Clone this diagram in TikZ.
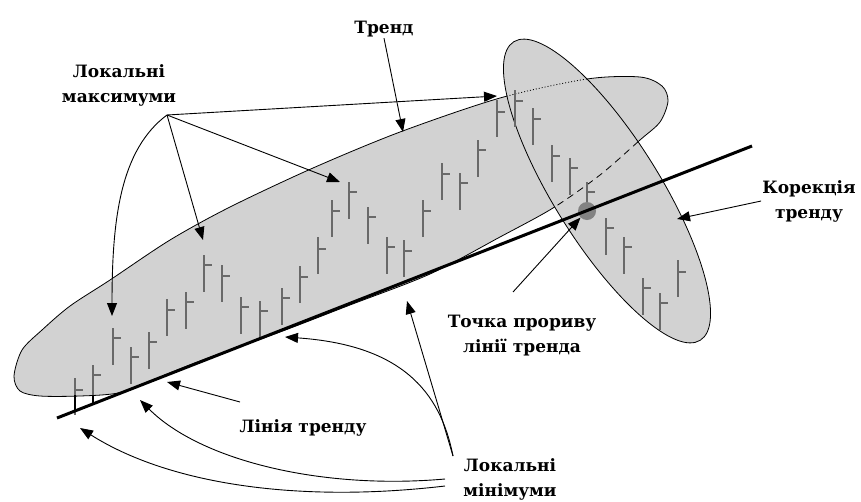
\documentclass[tikz,border=0pt]{standalone}
\usepackage{fontspec}
\setmainfont{DejaVu Serif}
\usetikzlibrary{arrows.meta}

\begin{document}
\begin{tikzpicture}[
    x=1pt, y=-1pt,
    every node/.style={font=\bfseries\fontsize{17}{25}\selectfont},
    lbl/.style={
        align=center,
        inner sep=1pt
    },
    arr/.style={
        line width=0.9pt,
        -{Triangle[length=13pt, width=10pt]}
    },
    barline/.style={
        draw=bargrey,
        line width=1.8pt
    },
    mainshape/.style={
        insert path={plot[smooth cycle] coordinates {
            (14,376) (22,350) (42,330) (70,306) (110,280) (170,240) (230,207)
            (313,168) (400,132) (500,98) (587,79) (640,77) (662,86) (668,101)
            (660,122) (640,140) (600,175) (553,208) (500,237) (430,274)
            (350,305) (280,332) (200,361) (150,381) (118,393) (80,396)
            (40,396) (20,391)
        }}
    }
]

\definecolor{fillgrey}{RGB}{210, 210, 210}
\definecolor{bargrey}{RGB}{105, 105, 105}
\definecolor{dotgrey}{RGB}{130, 130, 130}

\useasboundingbox (0,0) rectangle (861,501);

\path[mainshape, fill=fillgrey, draw, line width=0.8pt];
\path[rotate around={-58:(607,191)}, fill=fillgrey, draw, line width=0.8pt]
    (607,191) ellipse [x radius=176, y radius=53];

\begin{scope}
    \clip[rotate around={-58:(607,191)}] (607,191) ellipse [x radius=176, y radius=53];
    \begin{scope}
        \clip (450,0) rectangle (700,125);
        \path[mainshape, draw, line width=0.8pt, dash pattern=on 1pt off 2pt];
    \end{scope}
    \clip (450,125) rectangle (700,300);
    \path[mainshape, draw, line width=0.8pt, dash pattern=on 7pt off 5pt];
\end{scope}

\foreach \bx/\bt/\bc in {75/378/390, 93/365/375, 113/328/338, 131/347/357,
    149/332/342, 167/299/310, 186/292/302, 204/255/265, 222/265/276,
    241/297/307, 260/301/311, 282/288/298, 300/266/277, 318/237/249,
    332/200/211, 349/182/192, 368/207/217, 387/237/247, 404/240/251,
    423/200/211, 442/163/174, 460/173/183, 478/140/150, 497/100/112,
    515/90/101, 533/108/119, 552/145/156, 570/158/168, 587/182/192,
    606/218/228, 624/237/247, 643/278/288, 660/293/303, 678/260/272}
    \draw[barline] (\bx,\bt) -- (\bx,\bt+37) (\bx,\bc) -- (\bx+8,\bc);
\draw[line width=1.8pt] (75,395) -- (75,412) (93,395) -- (93,405);

\node[circle, fill=dotgrey, minimum size=18pt, inner sep=0pt] (brkpt) at (587,211) {};

\coordinate (tl0) at (57,418);
\coordinate (tl1) at (752,146);
\draw[line width=3pt] (tl0) -- (tl1);

\node[lbl] (trend) at (384,29) {Тренд};
\node[lbl] (maxima) at (119,85) {Локальні\\максимуми};
\node[lbl] (corr) at (809,201) {Корекція\\тренду};
\node[lbl] (brk) at (522,336) {Точка прориву\\лінії тренда};
\node[lbl] (tlabel) at (303,428) {Лінія тренду};
\node[lbl] (minima) at (510,479) {Локальні\\мінімуми};

\coordinate (trendtip) at (403,132);
\coordinate (maxsrc) at (167,115);
\coordinate (mx1) at (497,96);
\coordinate (mx2) at (340,182);
\coordinate (mx3) at (203,240);
\coordinate (mx4) at (112,316);
\coordinate (corrtip) at (677,219);
\coordinate (brksrc) at (513,292);
\coordinate (tlsrc) at (240,402);
\coordinate (tltip) at (167,382);
\coordinate (minsrc) at (453,456);
\coordinate (minsrcA) at (445,479);
\coordinate (minsrcB) at (445,486);
\coordinate (mn1) at (407,301);
\coordinate (mn2) at (285,337);
\coordinate (mn3) at (140,400);
\coordinate (mn4) at (80,428);

\draw[arr] (trend.south) -- (trendtip);
\draw[arr] (maxsrc) -- (mx1);
\draw[arr] (maxsrc) -- (mx2);
\draw[arr] (maxsrc) -- (mx3);
\draw[arr] (maxsrc) .. controls (120,150) and (112,220) .. (mx4);
\draw[arr] (corr.west) -- (corrtip);
\draw[arr] (brksrc) -- (brkpt.south west);
\draw[arr] (tlsrc) -- (tltip);
\draw[arr] (minsrc) -- (mn1);
\draw[arr] (minsrc) .. controls (440,390) and (400,345) .. (mn2);
\draw[arr] (minsrcA) .. controls (320,490) and (200,460) .. (mn3);
\draw[arr] (minsrcB) .. controls (300,503) and (170,485) .. (mn4);

\end{tikzpicture}
\end{document}
